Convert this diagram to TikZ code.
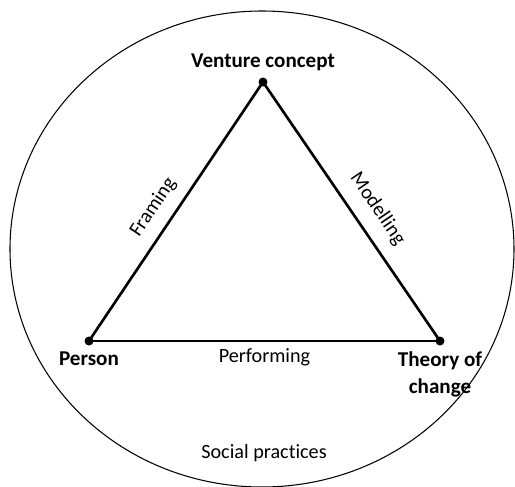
\documentclass[tikz,border=0pt]{standalone}
\usepackage{fontspec}
\setmainfont{Carlito}[Ligatures=NoCommon]
\usetikzlibrary{positioning}
\begin{document}
\begin{tikzpicture}[x=0.02cm, y=-0.02cm,
                dot/.style={circle,fill,inner sep=0pt,minimum size=0.18cm},
                corner/.style={font=\fontsize{12}{15}\selectfont\bfseries,align=center},
                side/.style={font=\fontsize{11.5}{14}\selectfont},
                edge/.style={line width=1.5pt}]
                \useasboundingbox (0,0) rectangle (515,487);
                \draw[line width=0.6pt] (262,249) ellipse [x radius=252, y radius=238];
                \node[dot](VEN) at (263,82) {};
                \node[dot](PER) at (89,341) {};
                \node[dot](THE) at (440,341) {};
                \node[corner,above=0pt of VEN](VENL) {Venture concept};
                \node[corner,below=0pt of PER](PERL) {Person};
                \node[corner,below=0pt of THE](THEL) {Theory of\\change};
                \node[side](SOC) at (264,453) {Social practices};
                \draw[edge] (PER.center) -- (VEN.center) node[side,pos=0.47,above=3pt,sloped]{Framing};
                \draw[edge] (VEN.center) -- (THE.center) node[side,pos=0.54,above=4pt,sloped]{Modelling};
                \draw[edge] (PER.center) -- (THE.center) node[side,midway,below]{Performing};
            \end{tikzpicture}
\end{document}
